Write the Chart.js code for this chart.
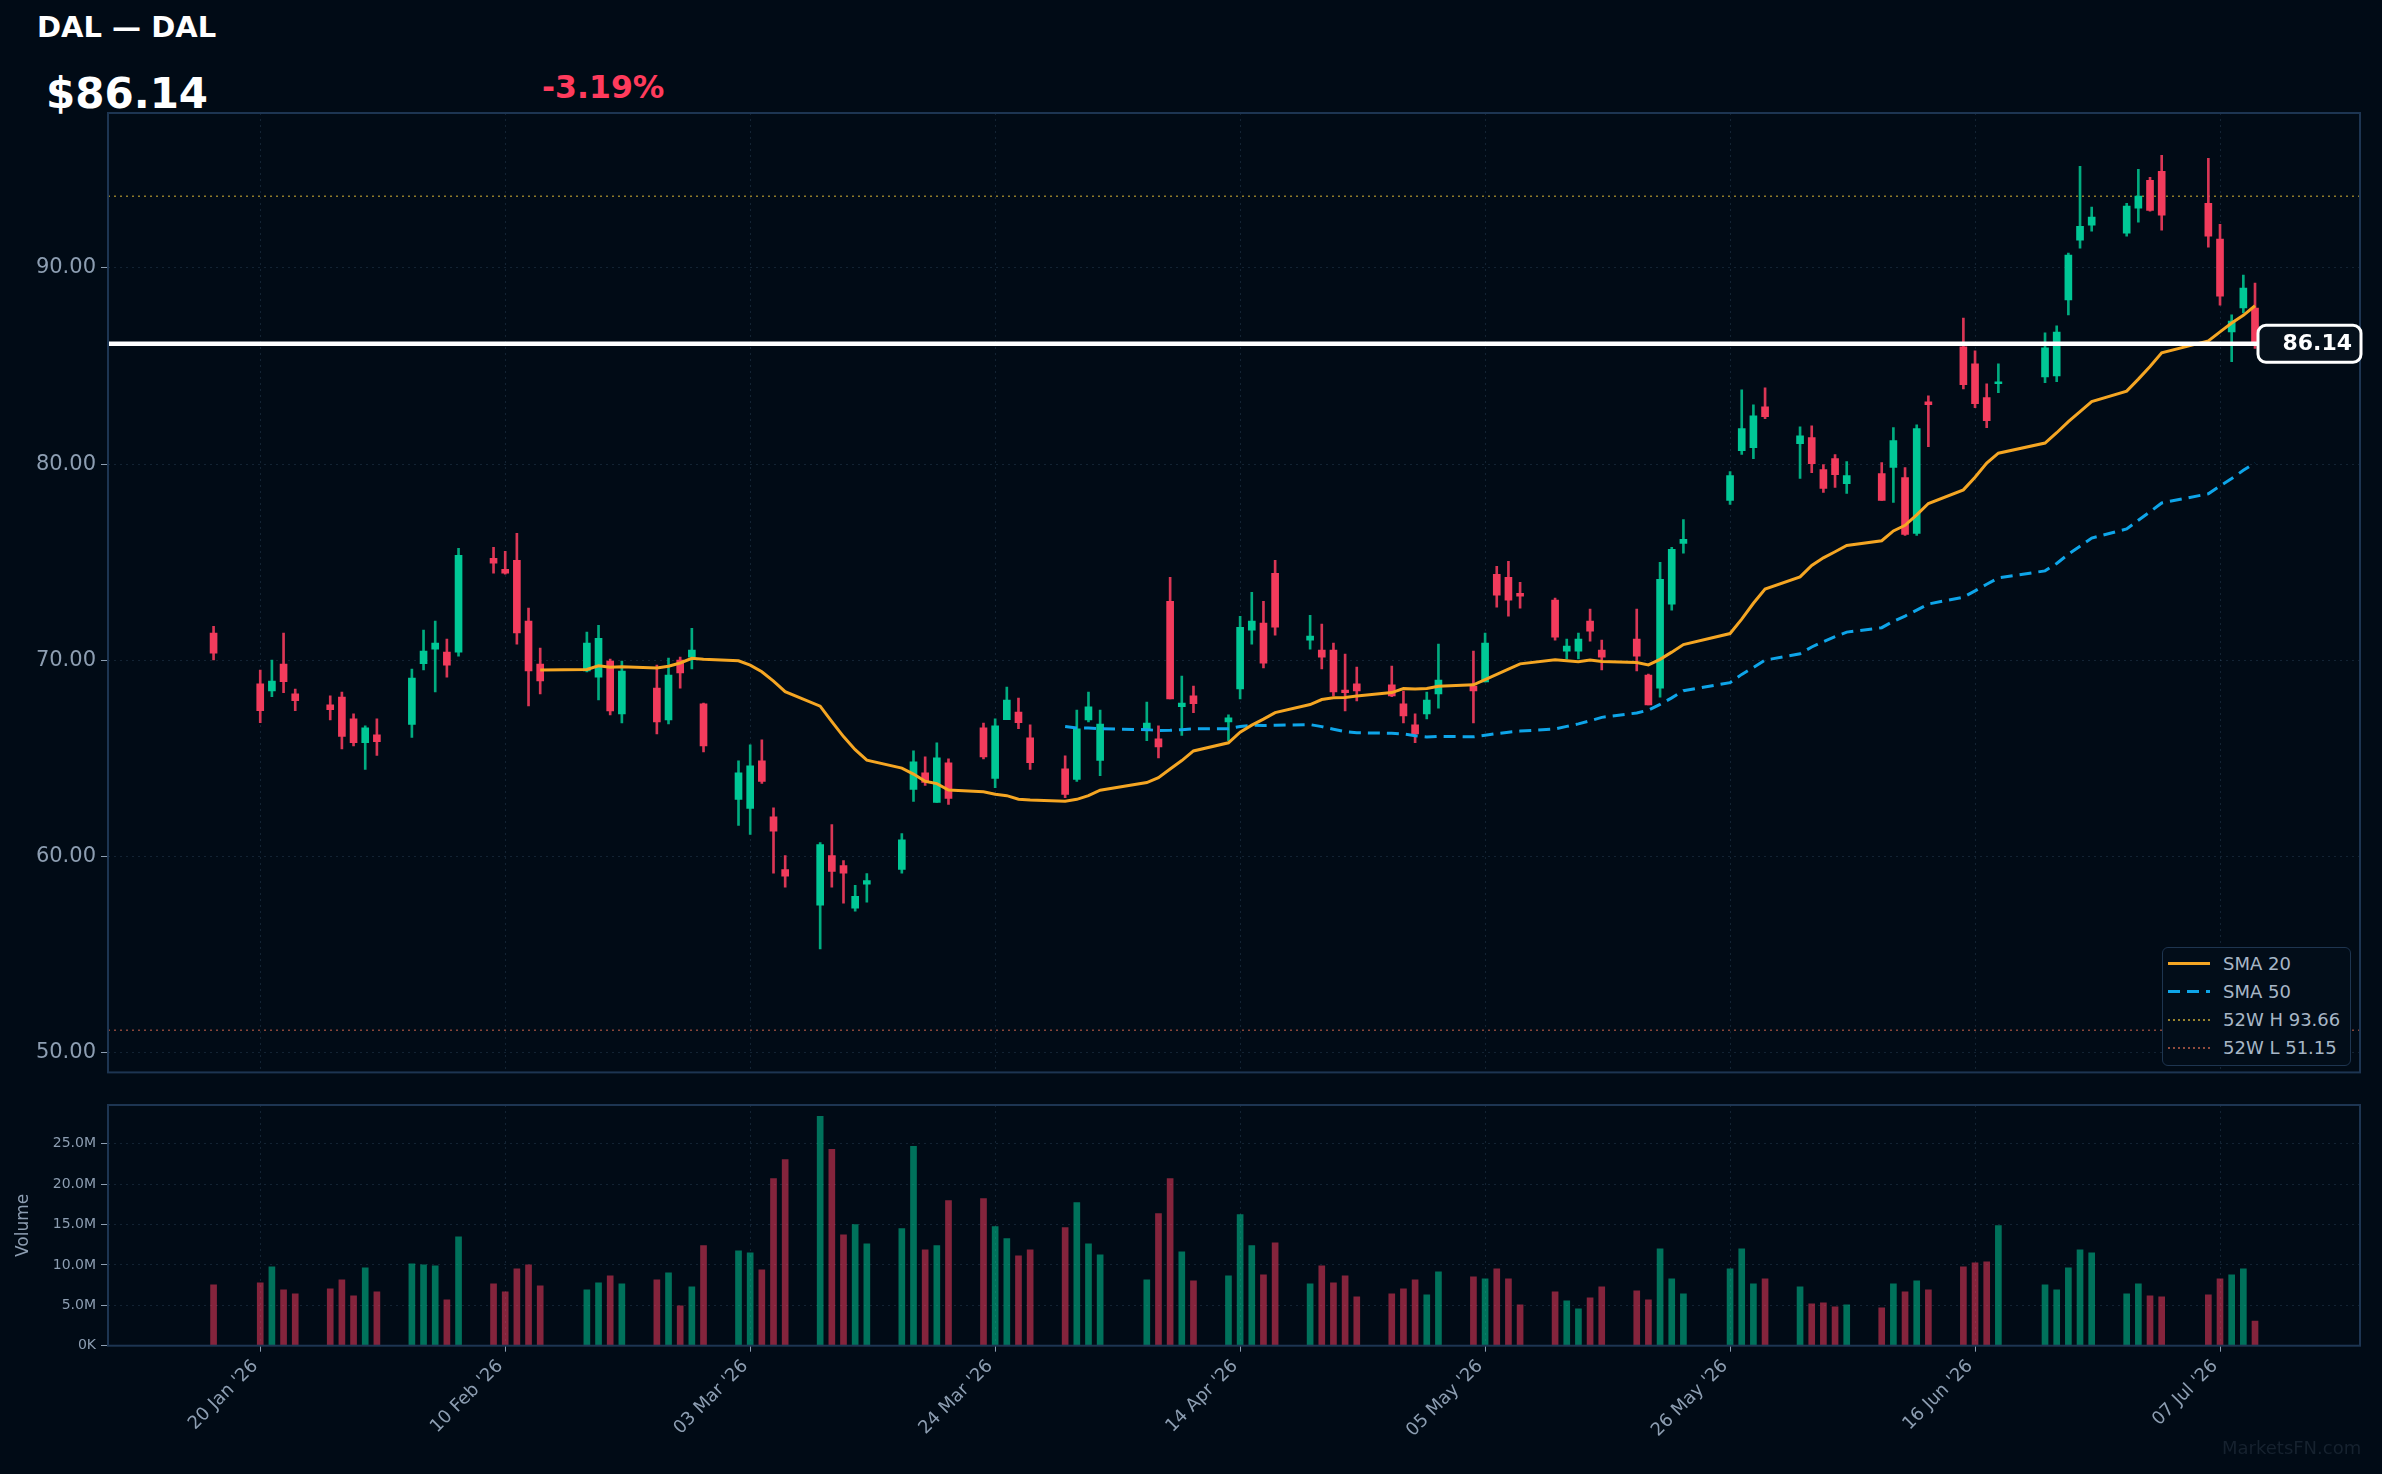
<!DOCTYPE html>
<html><head><meta charset="utf-8">
<script src="https://cdn.jsdelivr.net/npm/chart.js@4.4.1/dist/chart.umd.min.js"></script>
<style>
html,body{margin:0;padding:0;background:#010b16;width:2382px;height:1474px;overflow:hidden;font-family:"DejaVu Sans",sans-serif;}
.t{position:absolute;white-space:nowrap;line-height:1;font-weight:bold;}
#title{left:37px;top:13px;font-size:29px;color:#ffffff;}
#price{left:46px;top:72.5px;font-size:42px;color:#ffffff;}
#chg{left:542px;top:72px;font-size:31.5px;color:#ff3b5c;}
canvas{position:absolute;left:0;}
#pc{top:0;}
#vc{top:1080px;}
#legend{position:absolute;left:2162px;top:947px;width:189px;height:119px;box-sizing:border-box;border:1.5px solid #1e3550;border-radius:6px;background:#020d19;}
.row{position:absolute;left:0;width:100%;height:0;}
.sw{position:absolute;left:5px;width:42px;}
.lt{position:absolute;left:60px;top:0;transform:translateY(-50%);font-size:18px;color:#a7b6c6;white-space:nowrap;line-height:1;}
#wm{position:absolute;left:2222px;top:1439px;font-size:18px;color:#16222f;line-height:1;white-space:nowrap;}
</style>
</head>
<body>
<div class="t" id="title"></div>
<div class="t" id="price"></div>
<div class="t" id="chg"></div>
<canvas id="pc" width="2382" height="1090"></canvas>
<canvas id="vc" width="2382" height="394"></canvas>
<div id="legend"></div>
<div id="wm">MarketsFN.com</div>
<script>
// ---------------- DATA ----------------
const ticker = 'DAL';
const companyName = 'DAL';
const lastPrice = 86.14;
const changePct = -3.19;
const high52 = 93.66;
const low52 = 51.15;

const dates = [
'2026-01-16','2026-01-20','2026-01-21','2026-01-22','2026-01-23',
'2026-01-26','2026-01-27','2026-01-28','2026-01-29','2026-01-30',
'2026-02-02','2026-02-03','2026-02-04','2026-02-05','2026-02-06',
'2026-02-09','2026-02-10','2026-02-11','2026-02-12','2026-02-13',
'2026-02-17','2026-02-18','2026-02-19','2026-02-20',
'2026-02-23','2026-02-24','2026-02-25','2026-02-26','2026-02-27',
'2026-03-02','2026-03-03','2026-03-04','2026-03-05','2026-03-06',
'2026-03-09','2026-03-10','2026-03-11','2026-03-12','2026-03-13',
'2026-03-16','2026-03-17','2026-03-18','2026-03-19','2026-03-20',
'2026-03-23','2026-03-24','2026-03-25','2026-03-26','2026-03-27',
'2026-03-30','2026-03-31','2026-04-01','2026-04-02',
'2026-04-06','2026-04-07','2026-04-08','2026-04-09','2026-04-10',
'2026-04-13','2026-04-14','2026-04-15','2026-04-16','2026-04-17',
'2026-04-20','2026-04-21','2026-04-22','2026-04-23','2026-04-24',
'2026-04-27','2026-04-28','2026-04-29','2026-04-30','2026-05-01',
'2026-05-04','2026-05-05','2026-05-06','2026-05-07','2026-05-08',
'2026-05-11','2026-05-12','2026-05-13','2026-05-14','2026-05-15',
'2026-05-18','2026-05-19','2026-05-20','2026-05-21','2026-05-22',
'2026-05-26','2026-05-27','2026-05-28','2026-05-29',
'2026-06-01','2026-06-02','2026-06-03','2026-06-04','2026-06-05',
'2026-06-08','2026-06-09','2026-06-10','2026-06-11','2026-06-12',
'2026-06-15','2026-06-16','2026-06-17','2026-06-18',
'2026-06-22','2026-06-23','2026-06-24','2026-06-25','2026-06-26',
'2026-06-29','2026-06-30','2026-07-01','2026-07-02',
'2026-07-06','2026-07-07','2026-07-08','2026-07-09','2026-07-10'];

const opens = [
71.39,68.80,68.44,69.81,68.29, 67.73,68.13,67.02,65.81,66.20,
66.73,69.83,70.57,70.42,70.42, 75.20,74.64,75.10,72.00,69.81,
69.46,69.15,69.97,67.27, 68.59,66.96,70.02,70.17,67.78,
62.91,62.46,64.88,62.03,59.34, 57.52,60.05,59.54,57.37,58.59,
59.35,63.42,64.27,62.76,64.78, 66.56,63.98,66.98,67.37,66.05,
64.47,63.93,66.96,64.90, 66.51,66.00,73.01,67.64,68.19,
66.86,68.54,71.54,71.90,74.44, 71.03,70.52,70.52,68.49,68.80,
68.75,67.78,66.71,67.27,68.29, 68.69,68.90,74.39,74.23,73.42,
73.07,70.47,70.47,72.00,70.52, 71.08,69.25,68.59,72.86,75.96,
78.15,80.69,80.84,82.93, 81.05,81.35,79.73,80.28,79.01,
79.52,79.83,79.32,76.47,83.18, 85.98,85.11,83.39,84.10,
84.45,84.50,88.37,91.42,92.18, 91.77,93.05,94.47,94.93,
93.30,91.47,86.74,87.96,87.96];

const highs = [
71.74,69.51,70.02,71.39,68.54, 68.19,68.39,67.27,66.66,67.02,
69.56,71.54,72.00,71.08,75.71, 75.76,75.56,76.47,72.66,70.63,
71.44,71.79,70.07,69.97, 69.76,70.12,70.17,71.64,67.83,
64.88,65.69,65.95,62.49,60.05, 60.71,61.63,59.80,58.53,59.14,
61.17,65.39,65.08,65.80,64.98, 66.81,67.02,68.64,68.08,66.71,
65.13,67.47,68.39,67.47, 67.88,66.66,74.23,69.20,68.69,
67.22,72.25,73.47,73.01,75.10, 72.30,71.85,70.88,70.32,69.66,
69.71,68.44,67.27,68.39,70.83, 70.47,71.39,74.79,75.05,73.98,
73.17,71.08,71.39,72.61,71.03, 72.61,69.30,75.00,75.76,77.18,
79.62,83.79,83.03,83.89, 81.91,81.96,79.98,80.49,80.13,
80.08,81.86,79.83,82.01,83.49, 87.45,85.78,84.10,85.11,
86.69,87.05,90.76,95.18,93.10, 93.30,95.03,94.62,95.74,
95.59,92.23,87.61,89.64,89.23];

const lows = [
70.02,66.83,68.15,68.35,67.44, 66.96,65.49,65.64,64.44,65.15,
66.07,69.51,68.39,69.15,70.22, 74.44,74.39,70.83,67.68,68.29,
69.41,67.98,67.22,66.81, 66.25,66.76,68.59,69.56,65.34,
61.59,61.13,63.73,59.15,58.44, 55.29,58.44,57.63,57.22,57.68,
59.15,62.81,63.63,62.76,62.66, 64.98,63.51,66.98,66.52,64.44,
63.00,63.83,66.86,64.13, 65.91,65.03,68.03,66.17,67.34,
65.91,68.03,70.83,69.61,71.29, 70.57,69.56,68.19,67.42,67.93,
68.15,66.81,65.80,67.02,67.57, 66.81,68.90,72.71,72.25,72.66,
71.03,70.07,70.07,70.98,69.51, 69.46,67.73,68.13,72.56,75.46,
77.95,80.50,80.28,82.32, 79.27,79.57,78.56,78.81,78.51,
78.15,78.05,76.37,76.37,80.89, 83.84,82.88,81.86,83.64,
84.15,84.20,87.61,91.01,91.88, 91.62,92.33,92.89,91.93,
91.06,88.11,85.22,87.71,85.90];

const closes = [
70.37,67.44,68.95,68.91,67.95, 67.49,66.12,65.81,66.56,65.86,
69.10,70.47,70.88,69.76,75.35, 74.95,74.45,71.40,69.46,68.95,
70.88,71.13,67.42,69.46, 66.86,69.25,69.36,70.52,65.64,
64.27,64.63,63.83,61.29,59.00, 60.61,59.25,59.15,57.97,58.78,
60.86,64.83,63.78,65.03,62.96, 65.08,66.66,67.98,66.83,64.79,
63.17,66.51,67.63,66.76, 66.81,65.59,68.03,67.83,67.79,
67.07,71.69,72.00,69.86,71.69, 71.24,70.17,68.39,68.35,68.44,
68.19,67.17,66.25,67.98,69.00, 68.44,70.88,73.32,73.07,73.27,
71.18,70.73,71.08,71.49,70.17, 70.22,67.73,74.13,75.66,76.17,
79.42,81.81,82.47,82.42, 81.45,80.03,78.76,79.47,79.42,
78.15,81.20,76.42,81.81,83.03, 84.05,83.08,82.22,84.20,
85.93,86.74,90.66,92.13,92.59, 93.15,93.66,92.94,92.69,
91.62,88.57,87.30,88.98,86.14];

// volume in millions of shares
const volumes = [
7.53,7.78,9.77,6.91,6.42, 7.04,8.15,6.17,9.64,6.66,
10.14,10.02,9.89,5.67,13.49, 7.66,6.66,9.52,10.02,7.41,
6.91,7.78,8.65,7.66, 8.15,9.02,4.93,7.28,12.38,
11.75,11.51,9.40,20.70,23.05, 28.39,24.30,13.74,14.98,12.62,
14.49,24.67,11.88,12.38,17.96, 18.21,14.74,13.25,11.13,11.88,
14.61,17.72,12.62,11.26, 8.15,16.35,20.70,11.63,8.03,
8.65,16.23,12.38,8.77,12.75, 7.66,9.89,7.78,8.65,6.04,
6.42,7.04,8.15,6.29,9.15, 8.53,8.28,9.52,8.28,5.05,
6.66,5.55,4.55,5.92,7.28, 6.79,5.67,12.00,8.28,6.42,
9.52,12.00,7.66,8.28, 7.28,5.17,5.30,4.80,5.05,
4.68,7.66,6.66,8.03,6.91, 9.77,10.26,10.39,14.86,
7.53,6.91,9.64,11.88,11.51, 6.42,7.66,6.17,6.04,
6.29,8.28,8.77,9.52,3.06];

const tickDates = ['2026-01-20','2026-02-10','2026-03-03','2026-03-24','2026-04-14','2026-05-05','2026-05-26','2026-06-16','2026-07-07'];
const tickLabels = ["20 Jan '26","10 Feb '26","03 Mar '26","24 Mar '26","14 Apr '26","05 May '26","26 May '26","16 Jun '26","07 Jul '26"];
const priceTicks = [50, 60, 70, 80, 90];
const volumeTicks = [0, 5, 10, 15, 20, 25];

// ---------------- HELPERS ----------------
const ORIGIN = Date.UTC(2026, 0, 20);
function dayNum(s){ const [y,m,d] = s.split('-').map(Number); return (Date.UTC(y, m-1, d) - ORIGIN) / 86400000; }
const xs = dates.map(dayNum);
const tickXs = tickDates.map(dayNum);
const xMin = xs[0] - 9.05, xMax = xs[xs.length-1] + 9;
const priceMin = 49.0, priceMax = 97.9, volMax = 29.8;

function sma(n){
  const out = [];
  for (let i = n-1; i < closes.length; i++){
    let s = 0; for (let j = i-n+1; j <= i; j++) s += closes[j];
    out.push({x: xs[i], y: s/n});
  }
  return out;
}
const sma20 = sma(20), sma50 = sma(50);

const UP = '#00c896', DN = '#f23b5c';
const UPW = 'rgba(0,190,140,0.9)', DNW = 'rgba(242,59,92,0.9)';
const UPV = 'rgba(0,200,150,0.55)', DNV = 'rgba(242,59,92,0.55)';
const up = closes.map((c,i) => c >= opens[i]);
const GRID = 'rgba(70,100,130,0.28)';
const TICKC = '#8d9eb2';
const FONT = '"DejaVu Sans", sans-serif';

document.getElementById('title').textContent = ticker + ' \u2014 ' + companyName;
document.getElementById('price').textContent = '$' + lastPrice.toFixed(2);
document.getElementById('chg').textContent = (changePct > 0 ? '+' : '') + changePct.toFixed(2) + '%';

// legend
const legendItems = [
  {label: 'SMA 20', css: 'height:3px;top:-1.5px;background:#f5a623;'},
  {label: 'SMA 50', css: 'height:3px;top:-1.5px;background:repeating-linear-gradient(to right,#0ea5e9 0 12px,transparent 12px 19px);'},
  {label: '52W H ' + high52.toFixed(2), css: 'height:2px;top:-1px;background:repeating-linear-gradient(to right,rgba(190,160,50,0.8) 0 2px,transparent 2px 5px);'},
  {label: '52W L ' + low52.toFixed(2), css: 'height:2px;top:-1px;background:repeating-linear-gradient(to right,rgba(180,90,70,0.8) 0 2px,transparent 2px 5px);'}
];
const rowY = [15.7, 43.6, 72.0, 100.4];
const lg = document.getElementById('legend');
legendItems.forEach((it, k) => {
  const r = document.createElement('div'); r.className = 'row'; r.style.top = rowY[k] + 'px';
  r.innerHTML = '<div class="sw" style="' + it.css + '"></div><div class="lt">' + it.label + '</div>';
  lg.appendChild(r);
});

// ---------------- PLUGINS ----------------
const framePlugin = {
  id: 'frame',
  afterDraw(chart){
    const {ctx, chartArea: a} = chart;
    ctx.save(); ctx.strokeStyle = '#1d3552'; ctx.lineWidth = 2;
    ctx.strokeRect(a.left, a.top, a.right - a.left, a.bottom - a.top);
    ctx.restore();
  }
};
const priceBoxPlugin = {
  id: 'priceBox',
  afterDraw(chart){
    const {ctx, chartArea: a} = chart;
    const y = chart.scales.y.getPixelForValue(lastPrice);
    const x0 = a.right - 102, w = 103, h = 37, r = 8;
    ctx.save();
    ctx.beginPath(); ctx.roundRect(x0, y - h/2, w, h, r);
    ctx.fillStyle = '#06111c'; ctx.fill();
    ctx.lineWidth = 3; ctx.strokeStyle = '#ffffff'; ctx.stroke();
    ctx.fillStyle = '#ffffff'; ctx.font = 'bold 22px ' + FONT;
    ctx.textAlign = 'right'; ctx.textBaseline = 'middle';
    ctx.fillText(lastPrice.toFixed(2), a.right - 8, y + 1);
    ctx.restore();
  }
};

// ---------------- PRICE CHART ----------------
new Chart(document.getElementById('pc'), {
  type: 'bar',
  data: { datasets: [
    {type:'line', label:'Last', data:[{x:xMin,y:lastPrice},{x:xMax,y:lastPrice}], borderColor:'#ffffff', borderWidth:4.5, pointRadius:0, order:0},
    {type:'line', label:'SMA 20', data:sma20, borderColor:'#f5a623', borderWidth:3, pointRadius:0, order:1},
    {type:'line', label:'SMA 50', data:sma50, borderColor:'#0ea5e9', borderWidth:3, borderDash:[12,7], pointRadius:0, order:1},
    {type:'line', label:'52W H', data:[{x:xMin,y:high52},{x:xMax,y:high52}], borderColor:'rgba(190,160,50,0.75)', borderWidth:1.5, borderDash:[2,4], pointRadius:0, order:6},
    {type:'line', label:'52W L', data:[{x:xMin,y:low52},{x:xMax,y:low52}], borderColor:'rgba(180,90,70,0.75)', borderWidth:1.5, borderDash:[2,4], pointRadius:0, order:6},
    {label:'Body', data: xs.map((x,i)=>({x, y:[opens[i], closes[i]]})), backgroundColor: up.map(u => u ? UP : DN), barThickness:7, minBarLength:2, grouped:false, order:3},
    {label:'Wick', data: xs.map((x,i)=>({x, y:[lows[i], highs[i]]})), backgroundColor: up.map(u => u ? UPW : DNW), barThickness:2, grouped:false, order:4}
  ]},
  options: {
    responsive:false, animation:false, devicePixelRatio:1,
    layout:{padding:{left:0, top:113, right:22, bottom:16}},
    plugins:{legend:{display:false}, tooltip:{enabled:false}},
    scales:{
      x:{type:'linear', min:xMin, max:xMax, offset:false,
        afterBuildTicks: s => { s.ticks = tickXs.map(v => ({value:v})); },
        ticks:{display:false}, grid:{color:GRID, drawTicks:false, offset:false},
        border:{display:false, dash:[2,4]},
        afterFit: s => { s.height = 0; }},
      y:{type:'linear', min:priceMin, max:priceMax,
        afterBuildTicks: s => { s.ticks = priceTicks.map(v => ({value:v})); },
        ticks:{color:TICKC, font:{family:FONT, size:21}, padding:5, callback: v => Number(v).toFixed(2)},
        grid:{color:GRID, tickColor:TICKC, tickLength:7},
        border:{display:false, dash:[2,4]},
        afterFit: s => { s.width = 108; }}
    }
  },
  plugins:[framePlugin, priceBoxPlugin]
});

// ---------------- VOLUME CHART ----------------
new Chart(document.getElementById('vc'), {
  type: 'bar',
  data: { datasets: [
    {label:'Volume', data: xs.map((x,i)=>({x, y:volumes[i]})), backgroundColor: up.map(u => u ? UPV : DNV), barThickness:6, grouped:false}
  ]},
  options: {
    responsive:false, animation:false, devicePixelRatio:1,
    layout:{padding:{left:0, top:25, right:22, bottom:0}},
    plugins:{legend:{display:false}, tooltip:{enabled:false}},
    scales:{
      x:{type:'linear', min:xMin, max:xMax, offset:false,
        afterBuildTicks: s => { s.ticks = tickXs.map(v => ({value:v})); },
        ticks:{color:TICKC, font:{family:FONT, size:18}, minRotation:45, maxRotation:45, autoSkip:false, padding:4, labelOffset:-5,
          callback: (v, i) => tickLabels[i]},
        grid:{color:GRID, tickColor:TICKC, tickLength:6, offset:false},
        border:{display:false, dash:[2,4]},
        afterFit: s => { s.height = 128.3; }},
      y:{type:'linear', min:0, max:volMax,
        afterBuildTicks: s => { s.ticks = volumeTicks.map(v => ({value:v})); },
        ticks:{color:TICKC, font:{family:FONT, size:14}, padding:5, callback: v => v === 0 ? '0K' : Number(v).toFixed(1) + 'M'},
        grid:{color:GRID, tickColor:TICKC, tickLength:7},
        border:{display:false, dash:[2,4]},
        title:{display:true, text:'Volume', color:TICKC, font:{family:FONT, size:17}, padding:{top:13, bottom:0}},
        afterFit: s => { s.width = 108; }}
    }
  },
  plugins:[framePlugin]
});
</script>
</body></html>
